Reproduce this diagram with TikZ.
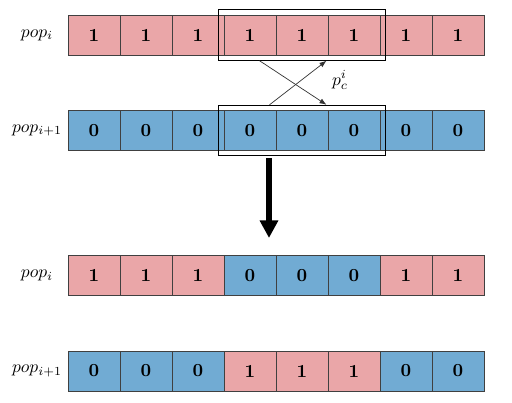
\documentclass[tikz,border=0pt]{standalone}
\usetikzlibrary{arrows.meta,fit}
\definecolor{cellred}{RGB}{234,166,168}
\definecolor{cellblue}{RGB}{113,171,211}
\tikzset{cell/.style={draw=black!75, thin, minimum width=1.04cm,
         minimum height=0.8cm, inner sep=0pt,
         font=\fontsize{10.5}{12}\selectfont\bfseries},
         bit1/.style={cell, fill=cellred},
         bit0/.style={cell, fill=cellblue},
         cutbox/.style={draw, thin, inner xsep=0.1cm, inner ysep=0.1cm}}

\begin{document}
\begin{tikzpicture}[x=0.02cm, y=-0.02cm]
  \useasboundingbox (0,0) rectangle (512,403);

  % chromosomes before and after crossover
  \foreach \row/\y/\pat in {a/35/{1,1,1,1,1,1,1,1}, b/130.5/{0,0,0,0,0,0,0,0},
                            c/275.5/{1,1,1,0,0,0,1,1}, d/371/{0,0,0,1,1,1,0,0}}
    \foreach \v [count=\k] in \pat
      \node[bit\v] (\row\k) at (42+52*\k,\y) {\v};

  \node (popa) at (37,35) {$pop_i$};
  \node (popb) at (37,130.5) {$pop_{i+1}$};
  \node (popc) at (37,275.5) {$pop_i$};
  \node (popd) at (37,371) {$pop_{i+1}$};

  % crossing segment
  \node[cutbox, fit=(a4)(a6)] (topcut) {};
  \node[cutbox, fit=(b4)(b6)] (botcut) {};
  \draw[-{Latex[length=4pt,width=3pt]}, draw=black!80] ([xshift=-0.85cm]topcut.south) -- ([xshift=0.49cm]botcut.north);
  \draw[-{Latex[length=4pt,width=3pt]}, draw=black!80] ([xshift=-0.65cm]botcut.north) -- ([xshift=0.49cm]topcut.south);
  \node (pc) at (340,80) {$p_c^i$};

  \coordinate (arrtop) at (269,158);
  \coordinate (arrbot) at (269,238);
  \draw[line width=3.4pt, -{Triangle[length=10pt,width=10pt]}] (arrtop) -- (arrbot);
\end{tikzpicture}
\end{document}
